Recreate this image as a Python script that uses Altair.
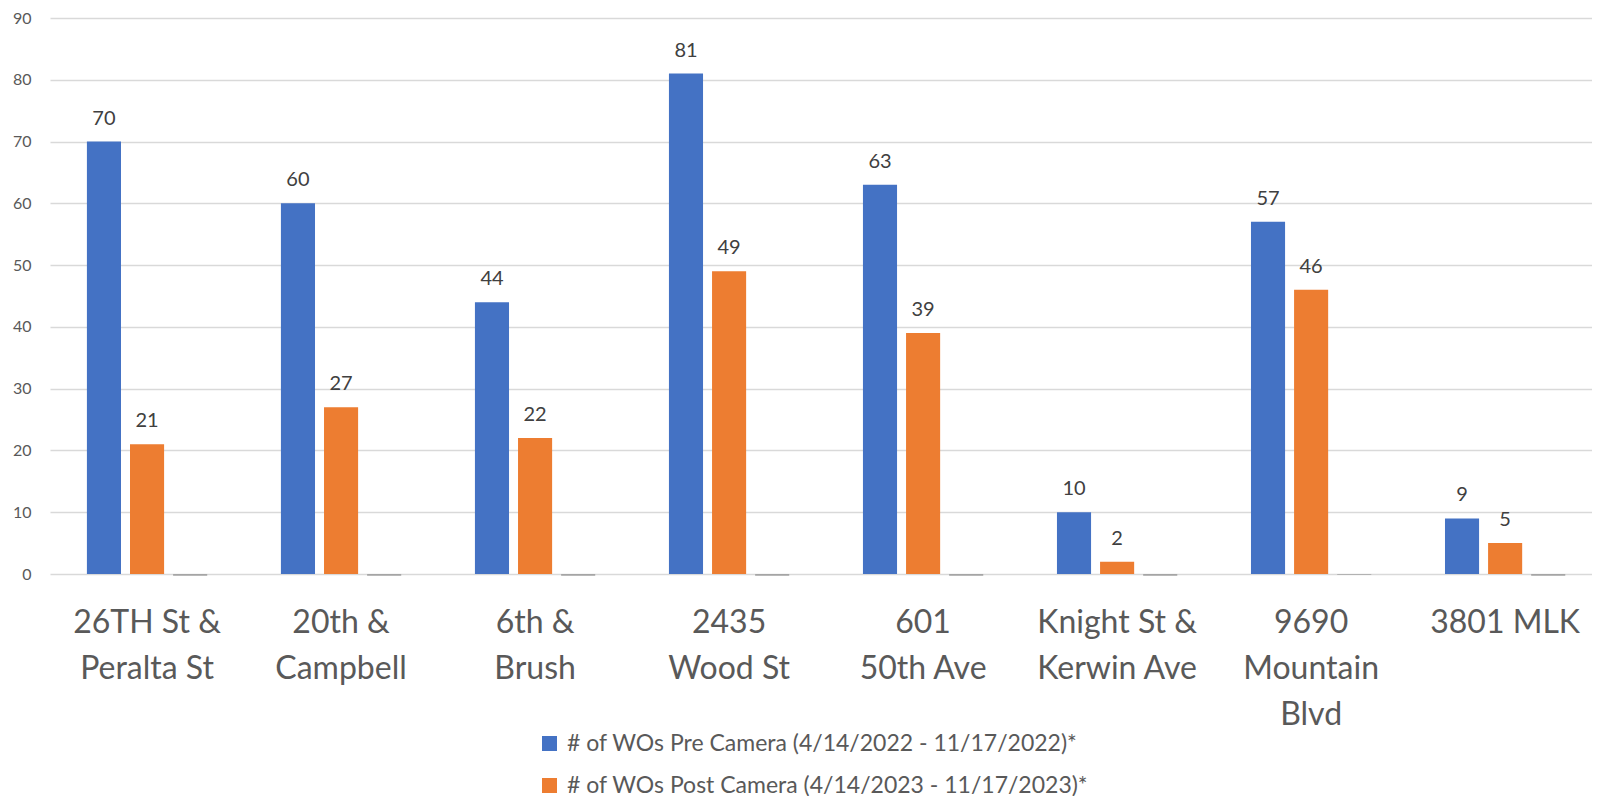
import altair as alt
import pandas as pd

locations = ["26TH St & Peralta St", "20th & Campbell", "6th & Brush", "2435 Wood St",
             "601 50th Ave", "Knight St & Kerwin Ave", "9690 Mountain Blvd", "3801 MLK"]
label_lines = [["26TH St &", "Peralta St"], ["20th &", "Campbell"], ["6th &", "Brush"],
               ["2435", "Wood St"], ["601", "50th Ave"], ["Knight St &", "Kerwin Ave"],
               ["9690", "Mountain", "Blvd"], ["3801 MLK"]]
pre_camera = [70, 60, 44, 81, 63, 10, 57, 9]
post_camera = [21, 27, 22, 49, 39, 2, 46, 5]
third_series = [-0.3, -0.3, -0.3, -0.3, -0.3, -0.3, -0.12, -0.3]

series_names = ["# of WOs Pre Camera (4/14/2022 - 11/17/2022)*",
                "# of WOs Post Camera (4/14/2023 - 11/17/2023)*",
                "Change"]
series_colors = ["#4472C4", "#ED7D31", "#A5A5A5"]
y_ticks = [0, 10, 20, 30, 40, 50, 60, 70, 80, 90]

rows = []
for i, loc in enumerate(locations):
    rows.append({"location": loc, "series": series_names[0], "value": pre_camera[i], "label": str(pre_camera[i])})
    rows.append({"location": loc, "series": series_names[1], "value": post_camera[i], "label": str(post_camera[i])})
    rows.append({"location": loc, "series": series_names[2], "value": third_series[i], "label": ""})
df = pd.DataFrame(rows)

FONT = "Lato"
lines_js = "[" + ",".join("[" + ",".join("'" + s + "'" for s in ls) + "]" for ls in label_lines) + "]"
locs_js = "[" + ",".join("'" + s + "'" for s in locations) + "]"
label_expr = f"{lines_js}[indexof({locs_js}, datum.value)]"

x_enc = alt.X("location:N", sort=locations,
              scale=alt.Scale(paddingInner=0.38, paddingOuter=0.164, align=0.58),
              axis=alt.Axis(title=None, labelAngle=0, labelFontSize=32, labelFont=FONT,
                            labelColor="#595959", labelPadding=33, labelLineHeight=46,
                            domain=False, ticks=False, labelExpr=label_expr))
xo_enc = alt.XOffset("series:N", sort=series_names, scale=alt.Scale(paddingInner=0.209))
y_enc = alt.Y("value:Q", scale=alt.Scale(domain=[0, 90], nice=False),
              axis=alt.Axis(title=None, values=y_ticks, labelFontSize=16, labelFont=FONT,
                            labelColor="#595959", labelPadding=19, domain=False, ticks=False,
                            gridColor="#D9D9D9", gridWidth=1.3))

bars = alt.Chart(df).mark_bar().encode(
    x=x_enc, xOffset=xo_enc, y=y_enc,
    color=alt.Color("series:N", sort=series_names,
                    scale=alt.Scale(domain=series_names, range=series_colors),
                    legend=alt.Legend(values=series_names[:2], title=None, orient="none",
                                      legendX=488, legendY=714, direction="vertical",
                                      symbolType="square", symbolSize=225, symbolStrokeWidth=0,
                                      labelFontSize=23, labelFont=FONT, labelColor="#595959",
                                      labelOffset=6, rowPadding=18, labelLimit=800))
)

texts = alt.Chart(df).transform_filter(alt.datum.label != "").mark_text(
    baseline="alphabetic", dy=-17, fontSize=20, font=FONT, color="#404040"
).encode(x=x_enc, xOffset=xo_enc, y=y_enc, text="label:N")

chart = alt.layer(bars, texts).properties(
    width=1542, height=556,
    padding={"left": 4, "top": 2, "right": 0, "bottom": 0}
).configure_view(stroke=None)

chart.save("out.html", embed_options={"renderer": "svg", "actions": False})
